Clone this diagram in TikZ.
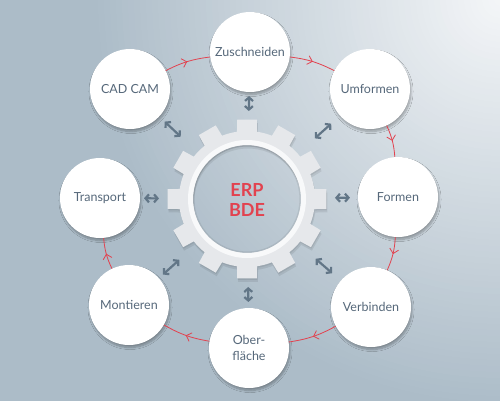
\documentclass[tikz,border=0pt]{standalone}
\usepackage{fontspec}
\setmainfont{Lato}
\usetikzlibrary{calc,arrows.meta,decorations.markings,shadows.blur}
\definecolor{bgbase}{HTML}{ACBCC8}
\definecolor{bglight}{HTML}{F4F6F8}
\definecolor{txt}{HTML}{56687A}
\definecolor{redc}{HTML}{E2424F}
\definecolor{arrg}{HTML}{627687}
\definecolor{gearc}{HTML}{E6E8EB}
\definecolor{ringc}{HTML}{F8F9FA}
\tikzset{
  stage/.style={circle, minimum size=80pt, inner sep=0pt, fill=white, text=txt,
    font=\fontsize{12.5}{16}\selectfont, align=center,
    blur shadow={shadow xshift=1pt, shadow yshift=-2.5pt, shadow opacity=30, shadow blur steps=8}},
  dbl/.style={arrg, line width=2.2pt, {Straight Barb[length=3.5pt,width=8pt]}-{Straight Barb[length=3.5pt,width=8pt]}},
  flow/.style={redc, line width=0.8pt, postaction={decorate},
    decoration={markings, mark=at position 0.5 with {\arrow{Straight Barb[length=4.5pt,width=9pt]}}}},
  centertext/.style={text=redc, font=\bfseries\fontsize{18}{20}\selectfont, align=center},
}
\def\gearpath{
    (-8.5:68)
    \foreach \i in {0,...,11}{
      -- (\i*30-8.5:68) -- (\i*30-7:80) -- (\i*30+7:80) -- (\i*30+8.5:68)
      arc[start angle=\i*30+8.5, end angle=\i*30+21.5, radius=68]
    } -- cycle
    (0,0) circle[radius=54]}
\begin{document}
\begin{tikzpicture}[x=1pt,y=-1pt]
% background
\begin{scope}
  \clip (0,0) rectangle (500,401);
  \fill[bgbase] (0,0) rectangle (500,401);
  \foreach \k in {70,...,1}{
    \pgfmathsetmacro\p{min(100,\k*6/4.1)}
    \fill[bgbase!\p!bglight] (500,0) circle[radius=\k*6];
  }
\end{scope}
\useasboundingbox (0,0) rectangle (500,401);

% gear
\coordinate (G) at (247,199);
\begin{scope}[shift={(248,202.5)}]
  \fill[black, opacity=0.08, even odd rule] \gearpath;
\end{scope}
\begin{scope}[shift={(247.5,200.5)}]
  \fill[black, opacity=0.07, even odd rule] \gearpath;
\end{scope}
\begin{scope}[shift={(247,199)}]
  \fill[gearc, even odd rule] \gearpath;
  \fill[ringc, even odd rule] (0,0) circle[radius=59] (0,0) circle[radius=54];
  \draw[black, opacity=0.07, line width=1.5pt] (0,0) circle[radius=53.2];
\end{scope}
\node[centertext] (erp) at (247,200) {ERP\\BDE};

% stages
\node[stage] (zus) at (250,52) {Zuschneiden};
\node[stage] (umf) at (370,89) {Umformen};
\node[stage] (for) at (398,197) {Formen};
\node[stage] (ver) at (371,307) {Verbinden};
\node[stage] (obe) at (249,348) {Ober-\\fläche};
\node[stage] (mon) at (129,305) {Montieren};
\node[stage] (tra) at (100,198) {Transport};
\node[stage] (cad) at (130,89) {CAD CAM};

% double arrows
\foreach \n in {zus,for,obe,tra}{
  \draw[dbl] ($(G)!88pt!(\n)$) -- ($(G)!103pt!(\n)$);
}
\foreach \n in {umf,ver,mon,cad}{
  \draw[dbl] ($(G)!91pt!(\n)$) -- ($(G)!113pt!(\n)$);
}

% flow arrows
\draw[flow] (cad) to[bend left=10] (zus);
\draw[flow] (zus) to[bend left=10] (umf);
\draw[flow] (umf) to[bend left=10] (for);
\draw[flow] (for) to[bend left=10] (ver);
\draw[flow] (ver) to[bend left=10] (obe);
\draw[flow] (obe) to[bend left=10] (mon);
\draw[flow] (mon) to[bend left=10] (tra);
\end{tikzpicture}
\end{document}
